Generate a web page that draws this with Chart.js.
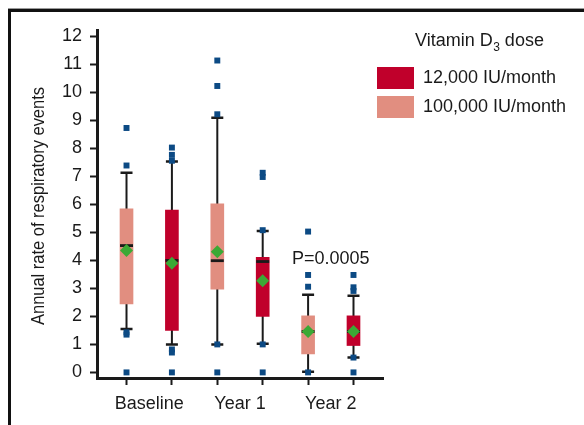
<!DOCTYPE html>
<html>
<head>
<meta charset="utf-8">
<script src="https://cdn.jsdelivr.net/npm/chart.js@4/dist/chart.umd.min.js"></script>
<style>
  html, body { margin: 0; padding: 0; background: #fff; }
  #wrap { width: 584px; height: 425px; }
</style>
</head>
<body>
<div id="wrap"><canvas id="c" width="584" height="425"></canvas></div>
<script>
// ---------- data ----------
const categories = ['Baseline', 'Year 1', 'Year 2'];
const doseLabels = ['12,000 IU/month', '100,000 IU/month'];
const legendTitleMain = 'Vitamin D';
const legendTitleSub = '3';
const legendTitleEnd = ' dose';
const yAxisTitle = 'Annual rate of respiratory events';
const yTicks = [0, 1, 2, 3, 4, 5, 6, 7, 8, 9, 10, 11, 12];
const pAnnotation = 'P=0.0005';

// 12,000 IU/month (per timepoint)
const lowQ1 = [1.5, 2.0, 0.96];
const lowQ3 = [5.8, 4.11, 2.02];
const lowMedian = [4.0, 3.96, 1.46];
const lowMean = [3.9, 3.27, 1.46];
const lowWhiskerMin = [1.0, 1.02, 0.53];
const lowWhiskerMax = [7.53, 5.05, 2.74];
const lowOutliers = [
  [8.03, 7.77, 7.56, 0.82, 0.71, 0],
  [7.13, 6.98, 5.08, 1.0, 0],
  [3.48, 3.04, 2.91, 0.53, 0]
];

// 100,000 IU/month (per timepoint)
const highQ1 = [2.45, 2.97, 0.66];
const highQ3 = [5.84, 6.02, 2.02];
const highMedian = [4.53, 3.99, 1.46];
const highMean = [4.35, 4.31, 1.46];
const highWhiskerMin = [1.55, 1.0, 0.02];
const highWhiskerMax = [7.13, 9.1, 2.77];
const highOutliers = [
  [8.73, 7.39, 1.43, 1.35, 0],
  [11.14, 10.23, 9.22, 1.0, 0],
  [5.03, 3.48, 3.06, 0]
];

// ---------- styling ----------
const DARK = '#C0002B';
const LIGHT = '#E18E80';
const NAVY = '#0C4A84';
const GREEN = '#3BA935';
const INK = '#1a1a1a';
const FONT = '"Liberation Sans", Arial, Helvetica, sans-serif';

// series: 100k drawn first within each timepoint, 12k second
const series = [
  { label: doseLabels[1], color: LIGHT, slot: 0, q1: highQ1, q3: highQ3, med: highMedian, mean: highMean, wmin: highWhiskerMin, wmax: highWhiskerMax, out: highOutliers },
  { label: doseLabels[0], color: DARK, slot: 1, q1: lowQ1, q3: lowQ3, med: lowMedian, mean: lowMean, wmin: lowWhiskerMin, wmax: lowWhiskerMax, out: lowOutliers }
];
const posOf = (catIdx, slot) => catIdx * 2 + slot + 1;
const boxPositions = [];
categories.forEach((c, i) => series.forEach(s => boxPositions.push(posOf(i, s.slot))));
const labelPositions = categories.map((c, i) => i * 2 + 1.5);
const xTickValues = boxPositions.concat(labelPositions).sort((a, b) => a - b);
const isLabelPos = v => labelPositions.indexOf(v) !== -1;

const datasets = [];
series.forEach((s, si) => {
  datasets.push({
    type: 'bar',
    label: s.label,
    data: categories.map((c, i) => ({ x: posOf(i, s.slot), y: [s.q1[i], s.q3[i]] })),
    backgroundColor: s.color,
    borderWidth: 0,
    barThickness: 13,
    grouped: false,
    order: 3,
    seriesIndex: si
  });
});
series.forEach(s => {
  datasets.push({
    type: 'scatter',
    label: s.label + ' mean',
    data: categories.map((c, i) => ({ x: posOf(i, s.slot), y: s.mean[i] })),
    pointStyle: 'rectRot',
    pointRadius: 6.5,
    backgroundColor: GREEN,
    borderWidth: 0,
    order: 2
  });
});
series.forEach(s => {
  const pts = [];
  categories.forEach((c, i) => s.out[i].forEach(v => pts.push({ x: posOf(i, s.slot), y: v })));
  datasets.push({
    type: 'scatter',
    label: s.label + ' outliers',
    data: pts,
    pointStyle: 'rect',
    pointRadius: 4.2,
    backgroundColor: NAVY,
    borderWidth: 0,
    order: 1
  });
});

// ---------- plugins ----------
const boxPlugin = {
  id: 'boxParts',
  beforeDatasetsDraw(chart) {
    const { ctx, scales: { x, y } } = chart;
    ctx.save();
    ctx.strokeStyle = INK;
    series.forEach(s => {
      categories.forEach((c, i) => {
        const px = x.getPixelForValue(posOf(i, s.slot));
        const yl = y.getPixelForValue(s.wmin[i]);
        const yh = y.getPixelForValue(s.wmax[i]);
        ctx.lineWidth = 2;
        ctx.beginPath();
        ctx.moveTo(px, yl); ctx.lineTo(px, yh);
        ctx.stroke();
        ctx.lineWidth = 2.5;
        ctx.beginPath();
        ctx.moveTo(px - 6, yl); ctx.lineTo(px + 6, yl);
        ctx.moveTo(px - 6, yh); ctx.lineTo(px + 6, yh);
        ctx.stroke();
      });
    });
    ctx.restore();
  },
  afterDatasetDraw(chart, args) {
    const ds = chart.data.datasets[args.index];
    if (ds.type !== 'bar') return;
    const s = series[ds.seriesIndex];
    const { ctx, scales: { x, y } } = chart;
    ctx.save();
    ctx.strokeStyle = INK;
    ctx.lineWidth = 2.8;
    categories.forEach((c, i) => {
      const px = x.getPixelForValue(posOf(i, s.slot));
      const py = y.getPixelForValue(s.med[i]);
      ctx.beginPath();
      ctx.moveTo(px - 6.5, py); ctx.lineTo(px + 6.5, py);
      ctx.stroke();
    });
    ctx.restore();
  },
  afterDraw(chart) {
    const { ctx, scales: { x, y } } = chart;
    ctx.save();
    // frame
    ctx.fillStyle = '#9a9a9a';
    ctx.fillRect(8, 8, 576, 1);
    ctx.fillStyle = '#111';
    ctx.fillRect(8, 9, 576, 3);
    ctx.fillRect(8, 9, 3, 416);

    // y axis title (condensed)
    ctx.fillStyle = INK;
    ctx.font = '18.5px ' + FONT;
    const w = ctx.measureText(yAxisTitle).width;
    const target = 238;
    ctx.translate(44, (y.top + y.bottom) / 2 + 2);
    ctx.rotate(-Math.PI / 2);
    ctx.scale(target / w, 1);
    ctx.textAlign = 'center';
    ctx.textBaseline = 'alphabetic';
    ctx.fillText(yAxisTitle, 0, 0);
    ctx.restore();

    ctx.save();
    ctx.fillStyle = INK;
    // P annotation
    ctx.font = '18px ' + FONT;
    ctx.textAlign = 'center';
    ctx.textBaseline = 'alphabetic';
    ctx.fillText(pAnnotation, x.getPixelForValue(labelPositions[2]), 263.5);

    // legend
    ctx.textAlign = 'left';
    let lx = 415;
    ctx.font = '18px ' + FONT;
    ctx.fillText(legendTitleMain, lx, 46);
    lx += ctx.measureText(legendTitleMain).width;
    ctx.font = '12px ' + FONT;
    ctx.fillText(legendTitleSub, lx + 0.5, 51);
    lx += ctx.measureText(legendTitleSub).width + 0.5;
    ctx.font = '18px ' + FONT;
    ctx.fillText(legendTitleEnd, lx, 46);

    const items = [series[1], series[0]];
    items.forEach((s, k) => {
      const top = 67 + k * 29;
      ctx.fillStyle = s.color;
      ctx.fillRect(377, top, 37, 22);
      ctx.fillStyle = INK;
      ctx.textBaseline = 'middle';
      ctx.font = '18px ' + FONT;
      ctx.fillText(s.label, 423, top + 11.5);
    });
    ctx.restore();
  }
};

// ---------- chart ----------
new Chart(document.getElementById('c'), {
  type: 'scatter',
  data: { datasets },
  options: {
    responsive: false,
    devicePixelRatio: 1,
    animation: false,
    events: [],
    layout: { padding: { top: 30, right: 201, left: 0, bottom: 0 } },
    plugins: { legend: { display: false }, tooltip: { enabled: false }, title: { display: false } },
    scales: {
      x: {
        type: 'linear',
        min: 0.35,
        max: 6.65,
        offset: false,
        afterBuildTicks: (scale) => { scale.ticks = xTickValues.map(v => ({ value: v })); },
        afterFit: (scale) => { scale.height = 47; },
        ticks: {
          autoSkip: false,
          maxRotation: 0,
          padding: 8,
          color: INK,
          font: { family: FONT, size: 18 },
          callback: (v) => isLabelPos(v) ? categories[labelPositions.indexOf(v)] : ''
        },
        grid: {
          offset: false,
          drawOnChartArea: false,
          drawTicks: true,
          tickLength: 7,
          tickWidth: 2,
          tickColor: (ctx) => (ctx.tick && isLabelPos(ctx.tick.value)) ? 'rgba(0,0,0,0)' : INK,
          color: INK
        },
        border: { display: true, color: INK, width: 3 }
      },
      y: {
        type: 'linear',
        min: -0.2,
        max: 12.23,
        afterBuildTicks: (scale) => { scale.ticks = yTicks.map(v => ({ value: v })); },
        afterFit: (scale) => { scale.width = 97; },
        ticks: {
          padding: 8,
          color: INK,
          font: { family: FONT, size: 18 }
        },
        grid: {
          drawOnChartArea: false,
          drawTicks: true,
          tickLength: 7,
          tickWidth: 2,
          tickColor: INK,
          color: INK
        },
        border: { display: true, color: INK, width: 3 }
      }
    }
  },
  plugins: [boxPlugin]
});
</script>
</body>
</html>
